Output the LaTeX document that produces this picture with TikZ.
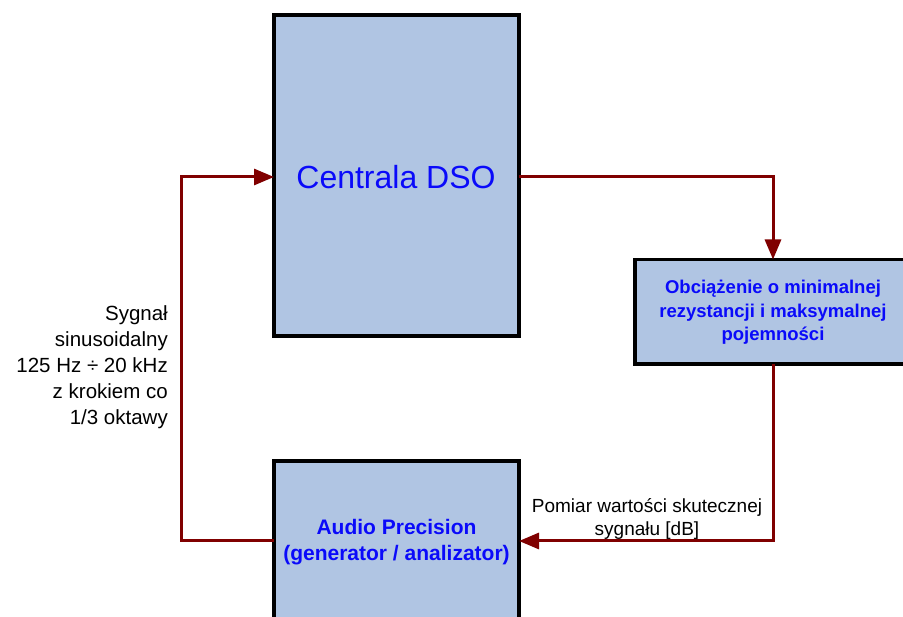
\documentclass[tikz,border=0pt]{standalone}
\usepackage{fontspec}
\setmainfont{Liberation Sans}
\usetikzlibrary{arrows.meta}
\definecolor{boxfill}{RGB}{176,197,227}
\definecolor{arrowred}{RGB}{128,0,0}
\definecolor{txtblue}{RGB}{10,10,250}
\tikzset{
  blockbox/.style={draw=black, line width=3.5pt, fill=boxfill},
  flow/.style={draw=arrowred, line width=3pt, -{Triangle[length=20pt,width=16pt]}},
  lbl/.style={inner sep=0pt, font=\fontsize{20.5}{26}\selectfont}
}
\begin{document}
\begin{tikzpicture}[x=1pt,y=-1pt]
\useasboundingbox (0,0) rectangle (903,617);
\clip (0,0) rectangle (903,617);
\fill[white] (0,0) rectangle (903,617);
% boxes
\draw[blockbox] (274,15) rectangle (519,336);
\node[text=txtblue, font=\fontsize{32}{36}\selectfont] (dso) at (396,177) {Centrala DSO};
\coordinate (dsoE) at (519,177);
\coordinate (dsoW) at (274,177);

\draw[blockbox] (635,259.5) rectangle (920,364);
\node[text=txtblue, align=center, font=\bfseries\fontsize{18.5}{23.3}\selectfont] (obc) at (773,312.5) {Obciążenie o minimalnej\\rezystancji i maksymalnej\\pojemności};
\coordinate (obcN) at (773,259.5);
\coordinate (obcS) at (773,364);

\draw[blockbox] (274,461) rectangle (519,640);
\node[text=txtblue, align=center, font=\bfseries\fontsize{21}{26.5}\selectfont] (ap) at (396.5,542) {Audio Precision\\(generator / analizator)};
\coordinate (apE) at (519,541);
\coordinate (apW) at (274,541);

% connectors
\draw[flow] (dsoE) -| (obcN);
\draw[flow] (obcS) |- (apE);
\draw[flow] (apW) -- (181,541) |- (dsoW);

% labels
\node[lbl, anchor=east, align=right] (sig) at (168,367) {Sygnał\\sinusoidalny\\125 Hz ÷ 20 kHz\\z krokiem co\\1/3 oktawy};
\node[lbl, align=center, font=\fontsize{19}{23.5}\selectfont] (pom) at (647,519) {Pomiar wartości skutecznej\\sygnału [dB]};
\end{tikzpicture}
\end{document}
